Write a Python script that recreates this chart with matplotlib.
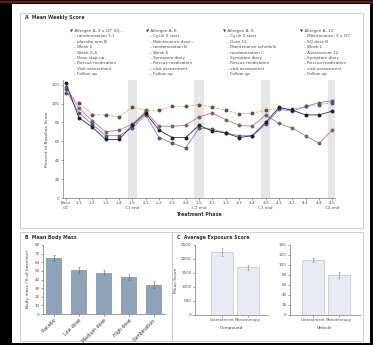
import numpy as np
import matplotlib
matplotlib.use("Agg")
import matplotlib.pyplot as plt
from matplotlib.patches import Rectangle

W, H = 373, 345

# ---- panel A data: 21 visits, cycles end at visits 5, 10, 15, 20
visit_labels = ["Base", "1-1", "1-2", "1-3", "1-4", "1-5", "2-1", "2-2", "2-3", "2-4",
                "2-5", "3-1", "3-2", "3-3", "3-4", "3-5", "4-1", "4-2", "4-3", "4-4", "4-5"]
visit_sub = {0: "C0", 5: "C1 end", 10: "C2 end", 15: "C3 end", 20: "C4 end"}
cycle_end = [5, 10, 15, 20]

navy_vals = [122, 85, 75, 62, 62, 77, 90, 72, 64, 64, 77, 71, 69, 64, 66, 80, 96, 93, 88, 88, 92]
orange_vals = [111, 101, 88, 88, 86, 96, 93, 93, 97, 97, 99, 96, 93, 89, 90, 93, 95, 94, 97, 99, 101]
red_vals = [118, 95, 82, 70, 72, 78, 92, 76, 76, 77, 86, 90, 83, 77, 76, 88, 79, 74, 66, 58, 72]
blue_vals = [115, 90, 78, 66, 66, 74, 88, 64, 58, 53, 74, 73, 69, 66, 66, 78, 94, 92, 97, 101, 103]

notes = [
    ["\u25bc Allergen A, 3 x 10\u00b3 SQ \u2013", "   \u2013 randomization 1:1", "   \u2013 placebo arm B",
     "   \u2013 Week 1", "   \u2013 Week 2\u20134", "   \u2013 Dose step-up", "   \u2013 Rescue medication",
     "   \u2013 Visit assessment", "   \u2013 Follow-up"],
    ["\u25bc Allergen A, 6", "   \u2013 Cycle 2 start", "   \u2013 Maintenance dose \u2013",
     "   \u2013 randomization B", "   \u2013 Week 6", "   \u2013 Symptom diary", "   \u2013 Rescue medication",
     "   \u2013 visit assessment", "   \u2013 Follow-up"],
    ["\u25bc Allergen A, 9", "   \u2013 Cycle 3 start", "   \u2013 Dose 12", "   \u2013 Maintenance schedule",
     "   \u2013 randomization C", "   \u2013 Symptom diary", "   \u2013 Rescue medication",
     "   \u2013 visit assessment", "   \u2013 Follow-up"],
    ["\u25bc Allergen A, 12", "   \u2013 Maintenance, 3 x 10\u00b3", "   \u2013 SQ dose B", "   \u2013 Week 1",
     "   \u2013 Assessment 12", "   \u2013 Symptom diary", "   \u2013 Rescue medication",
     "   \u2013 visit assessment", "   \u2013 Follow-up"],
]
note_x = [70, 146, 223, 300]

# ---- panel B data
groups_b = ["Placebo", "Low dose", "Medium dose", "High dose", "Combination"]
body_mass = [65, 51, 48, 43, 34]
body_err = [3, 3, 3, 3, 4]

# ---- panel C data
arms_c = ["Cotreatment", "Monotherapy"]
compound_score = [2250, 1700]
compound_err = [150, 100]
vehicle_score = [110, 80]
vehicle_err = [4, 6]


def box(x0, y0, x1, y1):
    return [x0 / W, 1 - y1 / H, (x1 - x0) / W, (y1 - y0) / H]


def style_ax(ax):
    for s in ["top", "right"]:
        ax.spines[s].set_visible(False)
    for s in ["left", "bottom"]:
        ax.spines[s].set_linewidth(0.5)
        ax.spines[s].set_color("#777777")
    ax.tick_params(labelsize=3, length=1.5, width=0.4, pad=1, colors="#555555")
    ax.patch.set_alpha(0)


fig = plt.figure(figsize=(W / 100, H / 100), dpi=100, facecolor="black")
fig.patches.append(Rectangle((12 / W, 1 - 343 / H), 358 / W, 339 / H, transform=fig.transFigure,
                             facecolor="white", edgecolor="none", zorder=-10))
fig.patches.append(Rectangle((0, 1 - 2.5 / H), 1, 1.5 / H, transform=fig.transFigure,
                             facecolor="#7a1224", edgecolor="none", zorder=-10))
for (x0, y0, x1, y1) in [(20, 13, 363, 228), (20, 232, 172, 341), (172, 232, 363, 341)]:
    fig.patches.append(Rectangle((x0 / W, 1 - y1 / H), (x1 - x0) / W, (y1 - y0) / H,
                                 transform=fig.transFigure, facecolor="none",
                                 edgecolor="#c8c8c8", lw=0.6, zorder=-5))

# ---------------- panel A
axA = fig.add_axes(box(63, 80, 335, 198))
x = np.arange(len(visit_labels))
for c in cycle_end:
    axA.axvspan(c - 0.36, c + 0.36, color="#e6e6e6", zorder=0, lw=0)
axA.plot(x, orange_vals, "--o", color="#f0a36a", ms=1.8, lw=0.6, mfc="#555555", mec="#555555")
axA.plot(x, red_vals, "-o", color="#e36f6f", ms=1.8, lw=0.6, mfc="#6b6b6b", mec="#6b6b6b")
axA.plot(x, blue_vals, "-o", color="#7b7fd8", ms=1.8, lw=0.6, mfc="#555577", mec="#555577")
axA.plot(x, navy_vals, "-o", color="#2b2f55", ms=1.8, lw=0.6, mfc="#222222", mec="#222222")
axA.set_xlim(-0.2, 20.2)
axA.set_ylim(0, 125)
axA.set_yticks(np.arange(0, 121, 20))
axA.set_xticks(x)
axA.set_xticklabels([visit_labels[i] + ("\n" + visit_sub[i] if i in visit_sub else "\n") for i in x])
style_ax(axA)
axA.set_ylabel("Percent of Baseline Score", fontsize=3.2, labelpad=2, color="#444444")
axA.set_xlabel("Treatment Phase", fontsize=3.4, labelpad=1.5, color="#333333", fontweight="bold")

fig.text(25 / W, 1 - 18 / H, "A  Mean Weekly Score", fontsize=3.4, fontweight="bold",
         color="#333333", va="center")
for nx, lines in zip(note_x, notes):
    for k, line in enumerate(lines):
        fig.text(nx / W, 1 - (31 + k * 5.4) / H, line, fontsize=3.0, color="#4a4a4a", va="center")

# ---------------- panel B
fig.text(25 / W, 1 - 238 / H, "B  Mean Body Mass", fontsize=3.4, fontweight="bold",
         color="#333333", va="center")
axB = fig.add_axes(box(43, 245, 165, 314))
xb = np.arange(len(groups_b))
axB.bar(xb, body_mass, width=0.62, color="#8ea3ba", edgecolor="none")
axB.errorbar(xb, body_mass, yerr=body_err, fmt="none", ecolor="#666666", elinewidth=0.4,
             capsize=0.8, capthick=0.4)
axB.set_xlim(-0.45, 4.45)
axB.set_ylim(0, 80)
axB.set_yticks(np.arange(0, 81, 10))
axB.set_xticks(xb)
axB.set_xticklabels(groups_b, rotation=45, ha="right", rotation_mode="anchor")
style_ax(axB)
axB.tick_params(axis="x", labelsize=3.4, colors="#333333")
axB.set_ylabel("Body mass (% of baseline)", fontsize=3.2, labelpad=3, color="#444444")

# ---------------- panel C
fig.text(177 / W, 1 - 238 / H, "C  Average Exposure Score", fontsize=3.4, fontweight="bold",
         color="#333333", va="center")
xc = np.arange(len(arms_c))
specs = [
    (box(195, 245, 268, 315), compound_score, compound_err, (-1.04, 1.77), 2500, 500, "Compound"),
    (box(290, 245, 360, 315), vehicle_score, vehicle_err, (-0.88, 1.81), 140, 20, "Vehicle"),
]
for i, (pos, vals, errs, xl, ymax, step, grp) in enumerate(specs):
    ax = fig.add_axes(pos)
    ax.bar(xc, vals, width=0.85, color="#e9eaf4", edgecolor="#b4b6c6", lw=0.4)
    ax.errorbar(xc, vals, yerr=errs, fmt="none", ecolor="#888888", elinewidth=0.4,
                capsize=0.8, capthick=0.4)
    ax.set_xlim(*xl)
    ax.set_ylim(0, ymax)
    ax.set_yticks(np.arange(0, ymax + 1, step))
    ax.set_xticks(xc)
    ax.set_xticklabels(arms_c)
    style_ax(ax)
    ax.tick_params(axis="x", labelsize=2.8)
    ax.set_xlabel(grp, fontsize=3.2, labelpad=2.5, color="#444444")
    if i == 0:
        ax.set_ylabel("Mean Score", fontsize=3.2, labelpad=2, color="#444444")

fig.savefig("out.png", dpi=100, facecolor="black")
